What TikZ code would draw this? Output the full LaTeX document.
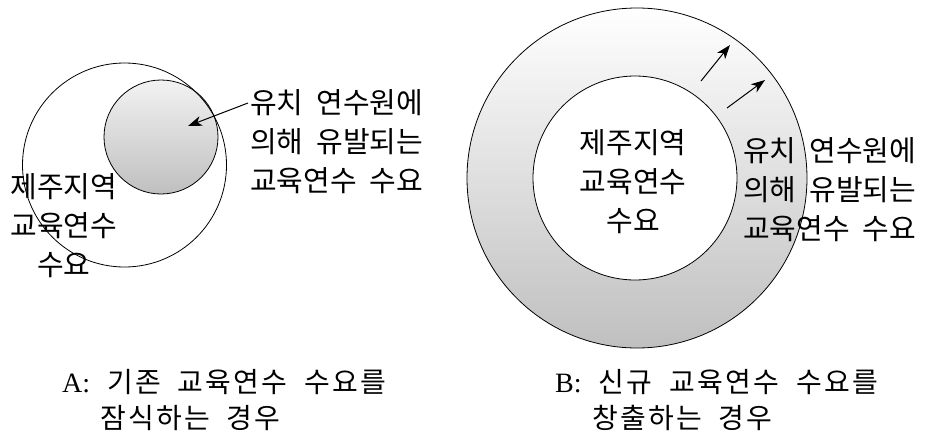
\documentclass[tikz,border=0pt]{standalone}
\usepackage{fontspec}
\setmainfont[WordSpace=2]{Noto Sans CJK KR}
\newfontfamily\capfont[WordSpace=2,LetterSpace=8]{Noto Sans CJK KR}
\newfontfamily\latinserif{Liberation Serif}
\usetikzlibrary{arrows.meta}
\tikzset{
  lbl/.style={inner sep=0pt, font=\fontsize{29}{39}\selectfont},
  captext/.style={inner sep=0pt, anchor=west, font=\capfont\fontsize{28}{30}\selectfont},
  ring/.style={draw=black, line width=0.8pt},
  arr/.style={draw=black, line width=1pt, -{Stealth[length=14pt,width=10pt,inset=4pt]}}
}
\begin{document}
\begin{tikzpicture}[x=1pt,y=-1pt]
\useasboundingbox (0,0) rectangle (927,434);
\fill[white] (0,0) rectangle (927,434);
% ---- Panel A ----
\shade[ring, top color=white!95!black, bottom color=gray!50] (161,137) circle[radius=57];
\draw[ring] (124.5,165) circle[radius=102];
\node[lbl, align=center] (jejuA) at (64,226) {제주지역\\교육연수\\수요};
\node[lbl, align=left, anchor=west] (labA) at (250,142) {유치 연수원에\\의해 유발되는\\교육연수 수요};
\coordinate (aS) at (248,103);
\coordinate (aE) at (188,126);
\draw[arr] (aS) -- (aE);
\node[captext] (capA1) at (62,382) {{\latinserif A:} 기존 교육연수 수요를};
\node[captext] (capA2) at (100,418) {잠식하는 경우};
% ---- Panel B ----
\shade[ring, top color=white, bottom color=gray!50] (637,178) circle[radius=170];
\filldraw[ring, fill=white] (635,178) circle[radius=102];
\node[lbl, align=center] (jejuB) at (633,182) {제주지역\\교육연수\\수요};
\node[lbl, align=left, anchor=west] (labB) at (743,190) {유치 연수원에\\의해 유발되는\\교육연수 수요};
\coordinate (b1S) at (701,81);
\coordinate (b1E) at (730,45);
\coordinate (b2S) at (727,108);
\coordinate (b2E) at (765,80);
\draw[arr] (b1S) -- (b1E);
\draw[arr] (b2S) -- (b2E);
\node[captext] (capB1) at (555,382) {{\latinserif B:} 신규 교육연수 수요를};
\node[captext] (capB2) at (592,418) {창출하는 경우};
\end{tikzpicture}
\end{document}
